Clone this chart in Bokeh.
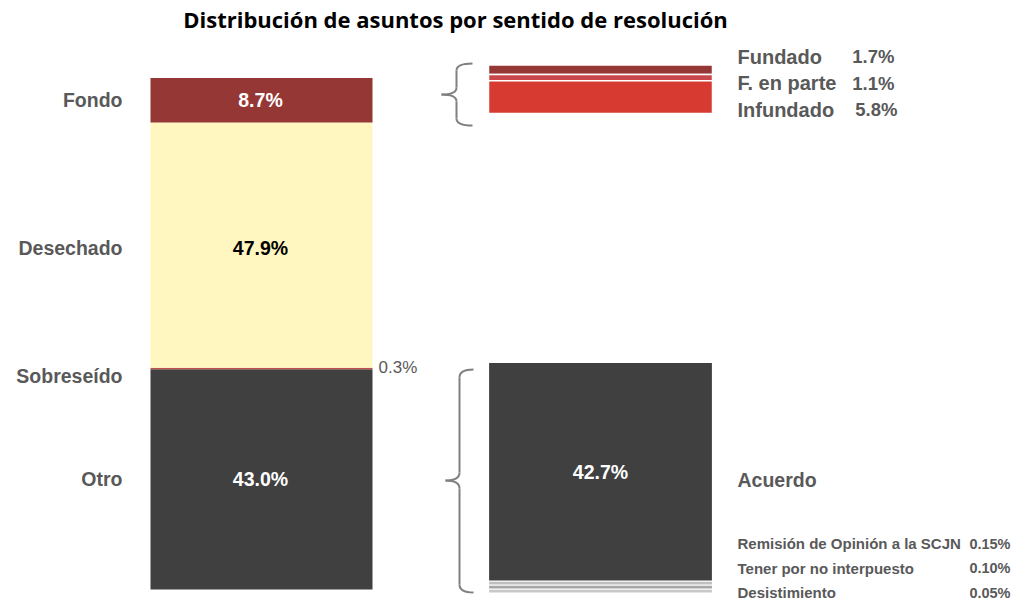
from bokeh.plotting import figure
from bokeh.models import ColumnDataSource, Range1d
from bokeh.core.properties import value
from bokeh.embed import file_html
from bokeh.resources import INLINE

# ---------------- data ----------------
title = "Distribución de asuntos por sentido de resolución"
main_cats = ["Otro", "Sobreseído", "Desechado", "Fondo"]
main_vals = [43.0, 0.3, 47.9, 8.7]
main_colors = ["#404040", "#C0504D", "#FFF7BF", "#953735"]
main_label_colors = ["#FFFFFF", "#595959", "#000000", "#FFFFFF"]

fondo_cats = ["Fundado", "F. en parte", "Infundado"]
fondo_vals = [1.7, 1.1, 5.8]
fondo_colors = ["#953735", "#C9474B", "#D73A31"]

otro_cats = ["Desistimiento", "Tener por no interpuesto", "Remisión de Opinión a la SCJN", "Acuerdo"]
otro_vals = [0.05, 0.10, 0.15, 42.7]
otro_colors = ["#C8C8C8", "#A6A6A6", "#BFBFBF", "#404040"]

# ---------------- layout ----------------
W, H = 1016, 600
PX = 5.12          # pixels per percent
Y0 = 589           # image y of 0 %
def iy(img_y):
    return (Y0 - img_y) / PX

FONT = value("Liberation Sans")
GRAY = "#595959"

p = figure(width=W, height=H, x_range=Range1d(0, W),
           y_range=Range1d(iy(H), iy(0)), output_backend="svg",
           toolbar_location=None, min_border=0)
p.axis.visible = False
p.grid.visible = False
p.outline_line_color = None

# ---- left stacked bar ----
bottoms, tops = [], []
acc = 0.0
for v in main_vals:
    bottoms.append(acc)
    acc += v
    tops.append(acc)
left_src = ColumnDataSource(dict(bottom=bottoms, top=tops, color=main_colors,
                                 left=[150] * 4, right=[372] * 4))
p.quad(left="left", right="right", bottom="bottom", top="top", fill_color="color",
       line_color=None, source=left_src)

centers = [(b + t) / 2 for b, t in zip(bottoms, tops)]
name_y = list(centers)
name_y[1] = centers[1] - 7 / PX
name_y[2] = centers[2] - 3 / PX
p.text(x=[122] * 4, y=name_y, text=main_cats, text_align="right", text_baseline="middle",
       text_font=FONT, text_font_style="bold", text_font_size="19.5px", text_color=GRAY)
big = [i for i, v in enumerate(main_vals) if v > 1]
p.text(x=[260] * len(big), y=[centers[i] + (-3 / PX if i == 2 else 0) for i in big],
       text=[f"{main_vals[i]:.1f}%" for i in big], text_align="center", text_baseline="middle",
       text_font=FONT, text_font_style="bold", text_font_size="19.5px",
       text_color=[main_label_colors[i] for i in big])
small = [i for i, v in enumerate(main_vals) if v <= 1]
p.text(x=[378] * len(small), y=[tops[i] for i in small],
       text=[f"{main_vals[i]:.1f}%" for i in small], text_align="left", text_baseline="middle",
       text_font=FONT, text_font_size="17px", text_color=GRAY)

# ---- right top stack (Fondo detail, magnified) ----
TOP_SCALE = 1.1
top_anchor = iy(64.5)
ft, fb = [], []
cur = top_anchor
for v in fondo_vals:
    ft.append(cur)
    cur -= v * TOP_SCALE
    fb.append(cur)
p.quad(left=[488] * 3, right=[712] * 3, top=ft, bottom=fb, fill_color=fondo_colors,
       line_color="white", line_width=1.5)
leg_y = [iy(56 + 26.5 * i) for i in range(3)]
p.text(x=[737] * 3, y=leg_y, text=fondo_cats, text_align="left", text_baseline="middle",
       text_font=FONT, text_font_style="bold", text_font_size="20px", text_color=GRAY)
p.text(x=[894, 894, 897], y=leg_y, text=[f"{v:.1f}%" for v in fondo_vals], text_align="right",
       text_baseline="middle", text_font=FONT, text_font_style="bold", text_font_size="18.5px",
       text_color=GRAY)

# ---- right bottom stack (Otro detail) ----
MIN_SLOT = 0.78
ob, ot = [], []
cur = iy(592.5)
for v in otro_vals:
    h = max(v, MIN_SLOT)
    ob.append(cur)
    cur += h
    ot.append(cur)
p.quad(left=[488] * 4, right=[712] * 4, bottom=ob, top=ot, fill_color=otro_colors,
       line_color="white", line_width=1.2)
p.text(x=[600], y=[(ob[-1] + ot[-1]) / 2], text=[f"{otro_vals[-1]:.1f}%"], text_align="center",
       text_baseline="middle", text_font=FONT, text_font_style="bold", text_font_size="19.5px",
       text_color="white")
p.text(x=[737], y=[iy(479)], text=[otro_cats[-1]], text_align="left", text_baseline="middle",
       text_font=FONT, text_font_style="bold", text_font_size="19.5px", text_color=GRAY)
minor_names = otro_cats[:-1][::-1]
minor_vals = otro_vals[:-1][::-1]
minor_y = [iy(543 + 24.5 * i) for i in range(3)]
p.text(x=[737] * 3, y=minor_y, text=minor_names, text_align="left", text_baseline="middle",
       text_font=FONT, text_font_style="bold", text_font_size="15px", text_color=GRAY)
p.text(x=[1010] * 3, y=minor_y, text=[f"{v:.2f}%" for v in minor_vals], text_align="right",
       text_baseline="middle", text_font=FONT, text_font_style="bold", text_font_size="14.5px",
       text_color=GRAY)

# ---- braces ----
def brace(xr, xm, xl, yt, ym, yb, r=8):
    segs_q = [
        ((xr, yt), (xm, yt + r), (xm, yt)),
        ((xm, ym - r), (xl, ym), (xm, ym)),
        ((xl, ym), (xm, ym + r), (xm, ym)),
        ((xm, yb - r), (xr, yb), (xm, yb)),
    ]
    p.quadratic(x0=[s[0][0] for s in segs_q], y0=[iy(s[0][1]) for s in segs_q],
                x1=[s[1][0] for s in segs_q], y1=[iy(s[1][1]) for s in segs_q],
                cx=[s[2][0] for s in segs_q], cy=[iy(s[2][1]) for s in segs_q],
                line_color="#808080", line_width=2)
    p.segment(x0=[xm, xm], y0=[iy(yt + r), iy(ym + r)], x1=[xm, xm], y1=[iy(ym - r), iy(yb - r)],
              line_color="#808080", line_width=2)

brace(472, 456, 441, 63, 94, 125, r=7)
brace(473, 459, 445, 369, 480, 592, r=8)

# ---- title ----
p.text(x=[455], y=[iy(18)], text=[title], text_align="center", text_baseline="middle",
       text_font=value("Open Sans"), text_font_style="bold", text_font_size="22px",
       text_color="#000000")

open("out.html", "w").write(file_html(p, INLINE))
